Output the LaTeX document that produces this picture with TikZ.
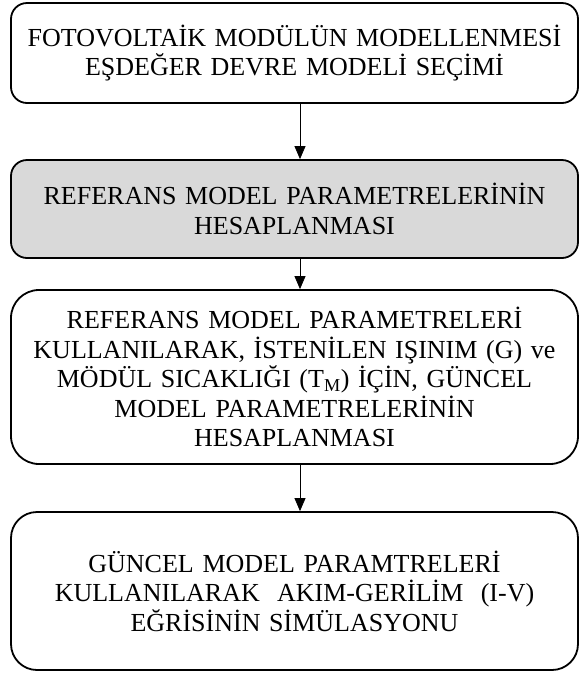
\documentclass[tikz,border=0pt]{standalone}
\usepackage{fontspec}
\setmainfont{Liberation Serif}
\usetikzlibrary{arrows.meta}
\definecolor{refgray}{rgb}{0.85,0.85,0.85}

\begin{document}
\begin{tikzpicture}[x=1pt, y=1pt, node distance=156pt,
    block/.style={rectangle, draw, line width=1.8pt, fill=white, inner sep=0pt, text width=567pt, minimum width=567pt, align=center, font=\fontsize{26}{29.5}\selectfont},
    flow/.style={-{Triangle[length=13pt, width=11pt]}, line width=0.8pt}]

    \useasboundingbox (0,0) rectangle (579,-673);

    \node[block, rounded corners=16pt, minimum height=100pt] at (294.5,-53) (secim) {FOTOVOLTAİK MODÜLÜN MODELLENMESİ\\EŞDEĞER DEVRE MODELİ SEÇİMİ};
    \node[block, rounded corners=16pt, minimum height=98pt, fill=refgray, below of=secim] (referans) {REFERANS MODEL PARAMETRELERİNİN\\HESAPLANMASI};
    \node[block, rounded corners=28pt, minimum height=174pt, below of=referans, node distance=168pt] (guncel) {REFERANS MODEL PARAMETRELERİ\\KULLANILARAK, İSTENİLEN IŞINIM (G) ve\\MÖDÜL SICAKLIĞI (T\textsubscript{M}) İÇİN, GÜNCEL\\MODEL PARAMETRELERİNİN\\HESAPLANMASI};
    \node[block, rounded corners=26pt, minimum height=158pt, below of=guncel, node distance=214pt] (simulasyon) {GÜNCEL MODEL PARAMTRELERİ\\KULLANILARAK\ \ AKIM-GERİLİM\ \ (I-V)\\EĞRİSİNİN SİMÜLASYONU};

    \draw[flow] ([xshift=5.5pt]secim.south) -- ([xshift=5.5pt]referans.north);
    \draw[flow] ([xshift=5.5pt]referans.south) -- ([xshift=5.5pt]guncel.north);
    \draw[flow] ([xshift=5.5pt]guncel.south) -- ([xshift=5.5pt]simulasyon.north);

\end{tikzpicture}
\end{document}
